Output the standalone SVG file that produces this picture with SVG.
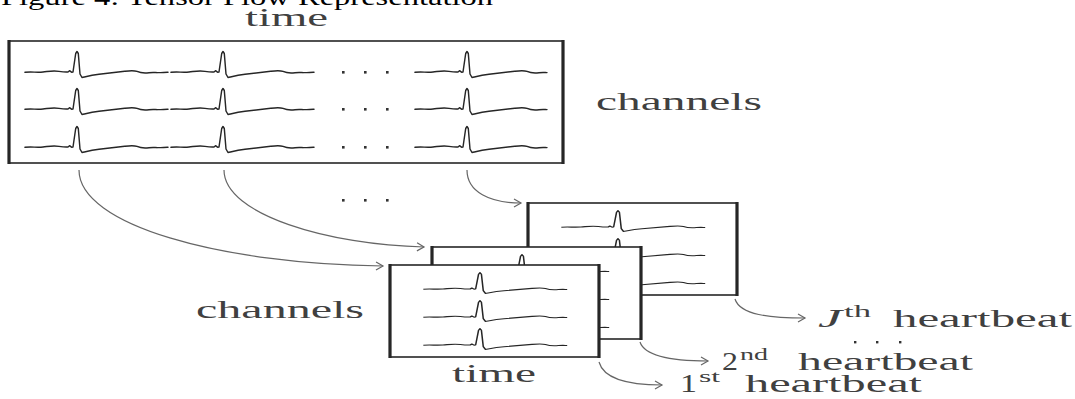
<svg xmlns="http://www.w3.org/2000/svg" xmlns:xlink="http://www.w3.org/1999/xlink" width="1075" height="399" viewBox="0 0 1075 399">
<style>
.title{font-family:"Liberation Serif",serif;font-size:24px;fill:#000}
.lbl{font-family:"Liberation Serif",serif;font-size:25px;fill:#404040}
.sup{font-family:"Liberation Serif",serif;font-size:17px;fill:#404040}
.ecg{fill:none;stroke:#262626;stroke-width:1.45;stroke-linejoin:round;stroke-linecap:round}
.ecgs{fill:none;stroke:#262626;stroke-width:1.4;stroke-linejoin:round;vector-effect:non-scaling-stroke}
.frame{fill:#fff;stroke:#262626;stroke-width:1.6}
.edge{stroke:#262626;stroke-width:3.2}
.conn{fill:none;stroke:#666;stroke-width:1.2}
.dot{fill:#333}
</style>
<defs>
<path id="b" d="M-52,0.3 C-46,-0.4 -40,0.6 -34,0 C-28,-0.6 -24,-1.6 -18,-0.6 C-14,0 -12,0.3 -9,0 L-7.5,-1.3 L-5.5,0.2 L-4,0 L-1.3,-18.5 L0,-20.5 L1.3,-18.5 L3,2 L5,5.5 C9,4.6 14,3.2 22,2.2 C32,1 40,0.2 48,-0.8 C54,-1.6 57,-1.8 60,-0.6 C64,1.2 68,1.2 72,0.7 C76,0.3 78,0.6 80,0.6"/>
<path id="t" d="M80,0.6 C84,0.8 88,0.2 91,0.3"/>
<marker id="ah" viewBox="-8 -5 10 10" refX="0" refY="0" markerWidth="10" markerHeight="10" markerUnits="userSpaceOnUse" orient="auto">
<path d="M-7,-4 L0,0 L-7,4" fill="none" stroke="#666" stroke-width="1.2"/>
</marker>
</defs>

<g id="title">
<text class="title" x="1" y="5" textLength="492" lengthAdjust="spacingAndGlyphs">Figure 4: Tensor Flow Representation</text>
</g>

<g id="main-tensor">
<text class="lbl" x="245" y="26" textLength="83" lengthAdjust="spacingAndGlyphs">time</text>
<rect class="frame" x="9" y="41" width="554" height="122"/>
<line class="edge" x1="9" y1="40" x2="9" y2="164"/>
<line class="edge" x1="563" y1="40" x2="563" y2="164"/>
<g class="ecg">
<use href="#b" transform="translate(77,72)"/><use href="#t" transform="translate(77,72)"/>
<use href="#b" transform="translate(223,72)"/><use href="#t" transform="translate(223,72)"/>
<use href="#b" transform="translate(467,72)"/>
<use href="#b" transform="translate(77,109)"/><use href="#t" transform="translate(77,109)"/>
<use href="#b" transform="translate(223,109)"/><use href="#t" transform="translate(223,109)"/>
<use href="#b" transform="translate(467,109)"/>
<use href="#b" transform="translate(77,147)"/><use href="#t" transform="translate(77,147)"/>
<use href="#b" transform="translate(223,147)"/><use href="#t" transform="translate(223,147)"/>
<use href="#b" transform="translate(467,147)"/>
</g>
<g class="dot">
<rect x="342" y="71" width="2.6" height="2.6"/><rect x="364" y="71" width="2.6" height="2.6"/><rect x="386" y="71" width="2.6" height="2.6"/>
<rect x="342" y="108" width="2.6" height="2.6"/><rect x="364" y="108" width="2.6" height="2.6"/><rect x="386" y="108" width="2.6" height="2.6"/>
<rect x="342" y="146" width="2.6" height="2.6"/><rect x="364" y="146" width="2.6" height="2.6"/><rect x="386" y="146" width="2.6" height="2.6"/>
</g>
<text class="lbl" x="596" y="110" textLength="166" lengthAdjust="spacingAndGlyphs">channels</text>
</g>

<g id="connectors">
<path class="conn" d="M79,170 C79,225 220,264 383,266" marker-end="url(#ah)"/>
<path class="conn" d="M224,170 C224,215 330,245 424,247" marker-end="url(#ah)"/>
<path class="conn" d="M467,170 C467,192 490,203 521,203" marker-end="url(#ah)"/>
<path class="conn" d="M735,299 C740,315 770,318 805,318" marker-end="url(#ah)"/>
<path class="conn" d="M640,342 C645,357 675,361 708,361" marker-end="url(#ah)"/>
<path class="conn" d="M599,362 C604,380 630,385 662,385" marker-end="url(#ah)"/>
</g>

<g id="dots-between" class="dot">
<rect x="342" y="199" width="2.6" height="2.6"/><rect x="364" y="199" width="2.6" height="2.6"/><rect x="386" y="199" width="2.6" height="2.6"/>
</g>

<g id="beat-J">
<rect class="frame" x="528" y="203" width="209" height="92"/>
<line class="edge" x1="528" y1="202" x2="528" y2="296"/>
<line class="edge" x1="737" y1="202" x2="737" y2="296"/>
<g class="ecgs">
<use href="#b" transform="translate(618,227) scale(1.09,0.8)"/>
<use href="#b" transform="translate(618,255) scale(1.09,0.8)"/>
<use href="#b" transform="translate(618,283) scale(1.09,0.8)"/>
</g>
</g>

<g id="beat-2">
<rect class="frame" x="432" y="247" width="209" height="92"/>
<line class="edge" x1="432" y1="246" x2="432" y2="340"/>
<line class="edge" x1="641" y1="246" x2="641" y2="340"/>
<g class="ecgs">
<use href="#b" transform="translate(522,271) scale(1.09,0.8)"/>
<use href="#b" transform="translate(522,299) scale(1.09,0.8)"/>
<use href="#b" transform="translate(522,327) scale(1.09,0.8)"/>
</g>
</g>

<g id="beat-1">
<rect class="frame" x="390" y="265" width="209" height="92"/>
<line class="edge" x1="390" y1="264" x2="390" y2="358"/>
<line class="edge" x1="599" y1="264" x2="599" y2="358"/>
<g class="ecgs">
<use href="#b" transform="translate(480,289) scale(1.09,0.8)"/>
<use href="#b" transform="translate(480,317) scale(1.09,0.8)"/>
<use href="#b" transform="translate(480,345) scale(1.09,0.8)"/>
</g>
<text class="lbl" x="196" y="318" textLength="168" lengthAdjust="spacingAndGlyphs">channels</text>
<text class="lbl" x="452" y="382" textLength="84" lengthAdjust="spacingAndGlyphs">time</text>
</g>

<g id="labels">
<text class="lbl" x="818" y="327" font-style="italic" textLength="24" lengthAdjust="spacingAndGlyphs">J</text>
<text class="sup" x="844" y="317" textLength="27" lengthAdjust="spacingAndGlyphs">th</text>
<text class="lbl" x="893" y="327" textLength="179" lengthAdjust="spacingAndGlyphs">heartbeat</text>
<g class="dot">
<rect x="854" y="341" width="2.4" height="2.4"/><rect x="876" y="341" width="2.4" height="2.4"/><rect x="899" y="341" width="2.4" height="2.4"/>
</g>
<text class="lbl" x="722" y="370" textLength="16" lengthAdjust="spacingAndGlyphs">2</text>
<text class="sup" x="740" y="360" textLength="28" lengthAdjust="spacingAndGlyphs">nd</text>
<text class="lbl" x="798" y="370" textLength="175" lengthAdjust="spacingAndGlyphs">heartbeat</text>
<text class="lbl" x="680" y="392" textLength="17" lengthAdjust="spacingAndGlyphs">1</text>
<text class="sup" x="699" y="382" textLength="21" lengthAdjust="spacingAndGlyphs">st</text>
<text class="lbl" x="745" y="392" textLength="177" lengthAdjust="spacingAndGlyphs">heartbeat</text>
</g>
</svg>
